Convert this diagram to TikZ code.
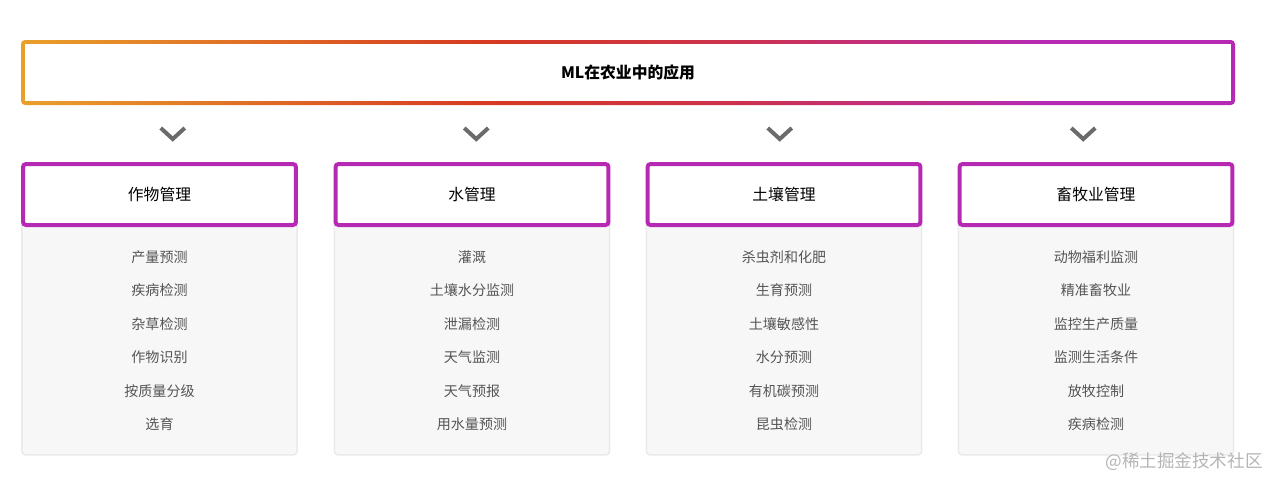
\documentclass[tikz,border=0pt]{standalone}
\usepackage{fontspec}
\setmainfont{Noto Sans CJK SC}
\usetikzlibrary{positioning, calc}

\definecolor{mlorange}{HTML}{E9A02B}
\definecolor{mlred}{HTML}{D63A22}
\definecolor{mlcrimson}{HTML}{CB3150}
\definecolor{mlpurple}{HTML}{B62AB3}
\definecolor{chevgrey}{HTML}{6B6B6B}
\definecolor{panelgrey}{HTML}{F7F7F7}
\definecolor{panelline}{HTML}{EAEAEA}
\definecolor{itemgrey}{HTML}{555555}
\definecolor{markgrey}{HTML}{B5B5B5}

\pgfdeclarehorizontalshading{titlegrad}{100bp}{color(0bp)=(mlorange); color(25bp)=(mlorange);
  color(44bp)=(mlred); color(55bp)=(mlcrimson); color(67bp)=(mlpurple); color(100bp)=(mlpurple)}

\tikzset{
  head/.style={draw=mlpurple, line width=0.08cm, fill=white, rounded corners=0.06cm,
    minimum width=5.46cm, minimum height=1.22cm, inner sep=0pt,
    font=\fontsize{9}{11}\selectfont},
  panel/.style={draw=panelline, line width=0.03cm, fill=panelgrey, rounded corners=0.08cm,
    minimum width=5.51cm, minimum height=5.1cm, inner sep=0pt},
  item/.style={text=itemgrey, inner sep=1pt, font=\fontsize{8}{10}\selectfont},
  chevron/.style={draw=chevgrey, line width=0.08cm},
}

\begin{document}
\begin{tikzpicture}[x=0.02cm, y=-0.02cm]
  \useasboundingbox (0,0) rectangle (1271,478);

  % title with gradient border
  \shade[shading=titlegrad, rounded corners=0.08cm] (21,40) rectangle (1235,105);
  \node[fill=white, minimum width=24.12cm, minimum height=1.14cm, inner sep=0pt,
    font=\fontsize{9}{11}\selectfont\bfseries] (title) at (628,72.5) {ML在农业中的应用};

  % chevrons
  \draw[chevron] (160.75,128) -- (172.75,139) -- (184.75,128);
  \draw[chevron] (464.25,128) -- (476.25,139) -- (488.25,128);
  \draw[chevron] (767.75,128) -- (779.75,139) -- (791.75,128);
  \draw[chevron] (1071.25,128) -- (1083.25,139) -- (1095.25,128);

  % panels
  \node[panel] (cropbg) at (159.5,327.5) {};
  \node[panel] (waterbg) at (472,327.5) {};
  \node[panel] (soilbg) at (784,327.5) {};
  \node[panel] (stockbg) at (1096,327.5) {};

  % headers
  \node[head] (crop) at (159.5,194.5) {作物管理};
  \node[head] (water) at (472,194.5) {水管理};
  \node[head] (soil) at (784,194.5) {土壤管理};
  \node[head] (stock) at (1096,194.5) {畜牧业管理};

  % items
  \foreach \t [count=\i] in {产量预测, 疾病检测, 杂草检测, 作物识别, 按质量分级, 选育}
    \node[item] (crop\i) at (159.5,{223.5+33.5*\i}) {\t};
  \foreach \t [count=\i] in {灌溉, 土壤水分监测, 泄漏检测, 天气监测, 天气预报, 用水量预测}
    \node[item] (water\i) at (472,{223.5+33.5*\i}) {\t};
  \foreach \t [count=\i] in {杀虫剂和化肥, 生育预测, 土壤敏感性, 水分预测, 有机碳预测, 昆虫检测}
    \node[item] (soil\i) at (784,{223.5+33.5*\i}) {\t};
  \foreach \t [count=\i] in {动物福利监测, 精准畜牧业, 监控生产质量, 监测生活条件, 放牧控制, 疾病检测}
    \node[item] (stock\i) at (1096,{223.5+33.5*\i}) {\t};

  \node[text=markgrey, inner sep=0pt, font=\fontsize{10}{12}\selectfont] (mark) at (1184,462) {@稀土掘金技术社区};
\end{tikzpicture}
\end{document}
